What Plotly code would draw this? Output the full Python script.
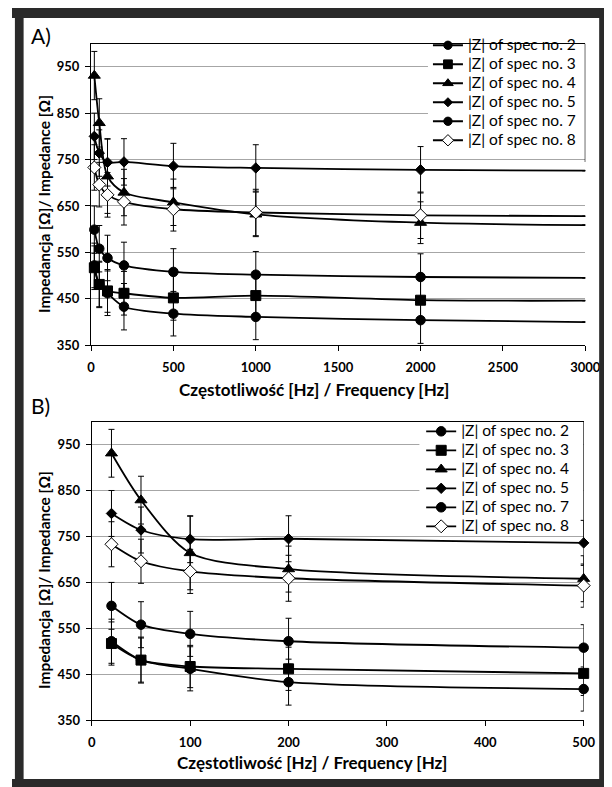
import plotly.graph_objects as go

W, H = 612, 787

# ---------------- data ----------------
freq_a = [20, 50, 100, 200, 500, 1000, 2000, 3000]   # last point = line end at the axis edge (no marker)
freq_b = [20, 50, 100, 200, 500]

series_names = ["|Z| of spec no. 2", "|Z| of spec no. 3", "|Z| of spec no. 4",
                "|Z| of spec no. 5", "|Z| of spec no. 7", "|Z| of spec no. 8"]

z_spec2 = [522, 481, 462, 433, 418, 411, 404, 400]
z_spec3 = [517, 481, 467, 462, 452, 457, 447, 446]
z_spec4 = [931, 829, 714, 679, 658, 632, 614, 609]
z_spec5 = [800, 764, 744, 745, 736, 732, 728, 726]
z_spec7 = [599, 558, 538, 522, 508, 502, 497, 495]
z_spec8 = [733, 696, 674, 659, 643, 636, 630, 628]

err_spec2 = [48, 50, 48, 50, 48, 49, 50, None]
err_spec3 = [47, 48, 46, 47, 48, 47, 48, None]
err_spec4 = [52, 52, 80, 50, 50, 48, 45, None]
err_spec5 = [50, 50, 51, 50, 49, 50, 50, None]
err_spec7 = [51, 50, 49, 50, 50, 50, 50, None]
err_spec8 = [49, 48, 48, 50, 47, 50, 50, None]

y_ticks = [350, 450, 550, 650, 750, 850, 950]
x_ticks_a = [0, 500, 1000, 1500, 2000, 2500, 3000]
x_ticks_b = [0, 100, 200, 300, 400, 500]

values = [z_spec2, z_spec3, z_spec4, z_spec5, z_spec7, z_spec8]
errors = [err_spec2, err_spec3, err_spec4, err_spec5, err_spec7, err_spec8]

# ---------------- styles ----------------
symbols = ["circle", "square", "triangle-up", "diamond", "circle", "diamond"]
msizes = [9.5, 10, 10.5, 8, 9.5, 10]
mfill = ["black", "black", "black", "black", "black", "white"]

FONT = "Lato, 'Open Sans', sans-serif"
LEG_TXT = '<span style="font-size:15.5px">{}</span>'

def px_x(p):
    return p / W

def px_y(p):
    return 1 - p / H

fig = go.Figure()

for i in range(6):
    sizes_a = [msizes[i]] * (len(freq_a) - 1) + [0]
    fig.add_trace(go.Scatter(
        x=freq_a, y=values[i], mode="lines+markers", name=LEG_TXT.format(series_names[i]),
        line=dict(color="black", width=1.8, shape="spline", smoothing=0.8),
        marker=dict(symbol=symbols[i], size=sizes_a, color=mfill[i], opacity=1,
                    line=dict(color="black", width=1)),
        error_y=dict(type="data", array=errors[i], color="black", thickness=1, width=3),
        xaxis="x", yaxis="y", legend="legend", cliponaxis=False,
    ))
for i in range(6):
    nb = len(freq_b)
    fig.add_trace(go.Scatter(
        x=freq_b, y=values[i][:nb], mode="lines+markers", name=LEG_TXT.format(series_names[i]),
        line=dict(color="black", width=1.8, shape="spline", smoothing=0.8),
        marker=dict(symbol=symbols[i], size=msizes[i], color=mfill[i], opacity=1,
                    line=dict(color="black", width=1)),
        error_y=dict(type="data", array=errors[i][:nb], color="black", thickness=1, width=3),
        xaxis="x2", yaxis="y2", legend="legend2", cliponaxis=False,
    ))

# pixel geometry
xa0, xa1 = 81.7, 592.7
ya_top, ya_bot = 35.9, 340.7
xb0, xb1 = 82.5, 591.0
yb_top, yb_bot = 417.8, 719.6

axis_common = dict(
    showline=True, linecolor="black", linewidth=1.2,
    ticks="outside", ticklen=5, tickcolor="black", tickwidth=1.2,
    zeroline=False,
    tickfont=dict(family=FONT, size=13, color="black", weight="bold"),
)

legend_common = dict(xanchor="left", yanchor="top", bgcolor="rgba(0,0,0,0)",
                     borderwidth=0, itemwidth=30,
                     font=dict(family=FONT, size=12, color="black"))

fig.update_layout(
    width=W, height=H, autosize=False,
    margin=dict(l=0, r=0, t=0, b=0),
    paper_bgcolor="white", plot_bgcolor="white",
    showlegend=True,
    xaxis=dict(domain=[px_x(xa0), px_x(xa1)], range=[0, 3000], tickvals=x_ticks_a,
               anchor="y", mirror=True, showgrid=False, ticklabelstandoff=5, **axis_common),
    yaxis=dict(domain=[px_y(ya_bot), px_y(ya_top)], range=[350, 1000], tickvals=y_ticks,
               anchor="x", showgrid=True, gridcolor="#a6a6a6", gridwidth=1,
               ticklabelstandoff=3, **axis_common),
    xaxis2=dict(domain=[px_x(xb0), px_x(xb1)], range=[0, 500], tickvals=x_ticks_b,
                anchor="y2", mirror=True, showgrid=False, ticklabelstandoff=5, **axis_common),
    yaxis2=dict(domain=[px_y(yb_bot), px_y(yb_top)], range=[350, 1000], tickvals=y_ticks,
                anchor="x2", showgrid=True, gridcolor="#a6a6a6", gridwidth=1,
                ticklabelstandoff=3, **axis_common),
    legend=dict(x=px_x(430), y=px_y(23), **legend_common),
    legend2=dict(x=px_x(423), y=px_y(413), **legend_common),
)

annotations = [
    dict(text="A)", x=px_x(18), y=px_y(28), xanchor="left", yanchor="middle",
         font=dict(family=FONT, size=21, color="black")),
    dict(text="B)", x=px_x(18), y=px_y(402), xanchor="left", yanchor="middle",
         font=dict(family=FONT, size=21, color="black")),
    dict(text="Częstotliwość [Hz] / Frequency [Hz]", x=px_x(312), y=px_y(385),
         xanchor="center", yanchor="middle",
         font=dict(family=FONT, size=17, color="black", weight="bold")),
    dict(text="Częstotliwość [Hz] / Frequency [Hz]", x=px_x(310), y=px_y(762),
         xanchor="center", yanchor="middle",
         font=dict(family=FONT, size=17, color="black", weight="bold")),
    dict(text="Impedancja [Ω]/ Impedance [Ω]", x=px_x(33), y=px_y(198), textangle=-90,
         xanchor="center", yanchor="middle",
         font=dict(family=FONT, size=15.5, color="black", weight="bold")),
    dict(text="Impedancja [Ω]/ Impedance [Ω]", x=px_x(33), y=px_y(578), textangle=-90,
         xanchor="center", yanchor="middle",
         font=dict(family=FONT, size=15.5, color="black", weight="bold")),
]
for a in annotations:
    a.update(xref="paper", yref="paper", showarrow=False)
fig.update_layout(annotations=annotations)

FRAME = "#2a2a2a"
shapes = [
    # white boxes behind the legends (hide gridlines, keep traces)
    dict(type="rect", xref="x", yref="y", x0=2045, x1=3000, y0=756, y1=1000,
         fillcolor="white", line=dict(width=0), layer="between"),
    dict(type="rect", xref="x2", yref="y2", x0=333, x1=500, y0=762, y1=1000,
         fillcolor="white", line=dict(width=0), layer="between"),
    # right border beside the legends
    dict(type="line", xref="x", yref="y", x0=3000, x1=3000, y0=745, y1=1000,
         line=dict(color="black", width=1.2), layer="above"),
    dict(type="line", xref="x2", yref="y2", x0=500, x1=500, y0=745, y1=1000,
         line=dict(color="black", width=1.2), layer="above"),
    # outer dark frame
    dict(type="rect", xref="paper", yref="paper", x0=px_x(3), x1=px_x(12), y0=0, y1=1,
         fillcolor=FRAME, line=dict(width=0), layer="above"),
    dict(type="rect", xref="paper", yref="paper", x0=0, x1=1, y0=px_y(10), y1=1,
         fillcolor=FRAME, line=dict(width=0), layer="above"),
    dict(type="rect", xref="paper", yref="paper", x0=px_x(607), x1=1, y0=0, y1=1,
         fillcolor=FRAME, line=dict(width=0), layer="above"),
    dict(type="rect", xref="paper", yref="paper", x0=0, x1=1, y0=0, y1=px_y(779),
         fillcolor=FRAME, line=dict(width=0), layer="above"),
]
fig.update_layout(shapes=shapes)

fig.write_html("out.html")
